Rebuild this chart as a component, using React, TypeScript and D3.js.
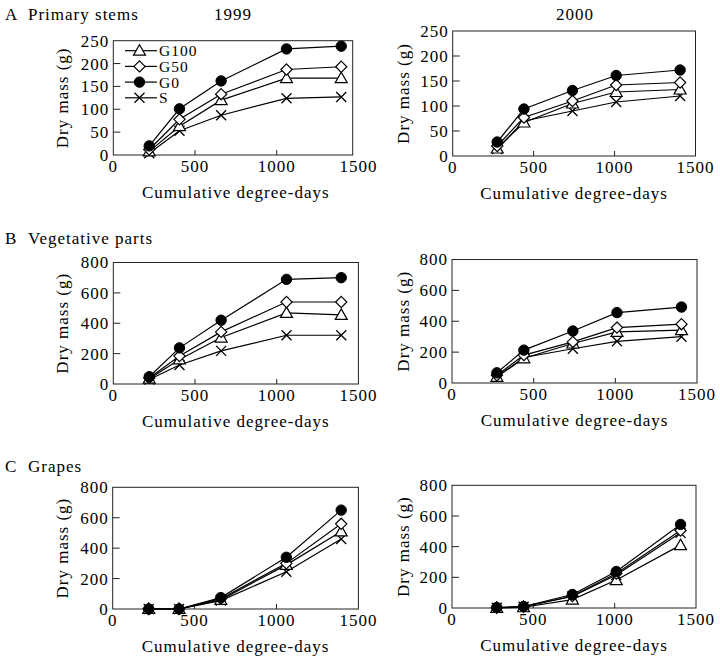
import React from "react";
import * as d3 from "d3";

const seriesNames = ["G100", "G50", "G0", "S"];
const degreeDays1999 = [220, 405, 660, 1060, 1395];
const degreeDays2000 = [275, 440, 740, 1010, 1405];

const stems1999_G100 = [8, 63, 120, 168, 168];
const stems1999_G50 = [12, 78, 133, 187, 193];
const stems1999_G0 = [20, 101, 162, 232, 238];
const stems1999_S = [4, 53, 87, 124, 127];

const stems2000_G100 = [15, 67, 105, 128, 133];
const stems2000_G50 = [20, 77, 110, 142, 147];
const stems2000_G0 = [28, 94, 131, 161, 172];
const stems2000_S = [14, 70, 90, 108, 120];

const veg1999_G100 = [35, 162, 306, 468, 455];
const veg1999_G50 = [40, 184, 343, 540, 540];
const veg1999_G0 = [48, 238, 420, 689, 700];
const veg1999_S = [30, 125, 218, 321, 321];

const veg2000_G100 = [40, 160, 256, 331, 342];
const veg2000_G50 = [50, 181, 266, 359, 381];
const veg2000_G0 = [66, 213, 337, 456, 492];
const veg2000_S = [40, 165, 222, 270, 300];

const grapes1999_G100 = [0, 0, 60, 290, 510];
const grapes1999_G50 = [0, 0, 68, 300, 560];
const grapes1999_G0 = [0, 0, 75, 340, 650];
const grapes1999_S = [0, 0, 55, 245, 460];

const grapes2000_G100 = [1, 5, 55, 182, 410];
const grapes2000_G50 = [2, 8, 78, 225, 505];
const grapes2000_G0 = [3, 10, 88, 238, 545];
const grapes2000_S = [2, 8, 75, 215, 490];

const xTicks = [0, 500, 1000, 1500];
const stemTicks = [0, 50, 100, 150, 200, 250];
const massTicks = [0, 200, 400, 600, 800];

const FONT = "'Liberation Serif', 'Times New Roman', serif";
const FS = 17;
const LS = 1;

type PanelSpec = {
  x0: number; x1: number; yb: number; yt: number; frameRight?: number;
  yMax: number; yTicks: number[]; xs: number[]; series: number[][];
  legend?: boolean;
};

const panels: PanelSpec[] = [
  { x0: 113.3, x1: 358.4, frameRight: 352.7, yb: 155, yt: 40.7, yMax: 250, yTicks: stemTicks, xs: degreeDays1999,
    series: [stems1999_G100, stems1999_G50, stems1999_G0, stems1999_S], legend: true },
  { x0: 452.7, x1: 695.5, yb: 156, yt: 31, yMax: 250, yTicks: stemTicks, xs: degreeDays2000,
    series: [stems2000_G100, stems2000_G50, stems2000_G0, stems2000_S] },
  { x0: 113.3, x1: 358.4, yb: 384, yt: 262.5, yMax: 800, yTicks: massTicks, xs: degreeDays1999,
    series: [veg1999_G100, veg1999_G50, veg1999_G0, veg1999_S] },
  { x0: 452, x1: 697, yb: 383, yt: 259.5, yMax: 800, yTicks: massTicks, xs: degreeDays2000,
    series: [veg2000_G100, veg2000_G50, veg2000_G0, veg2000_S] },
  { x0: 112.7, x1: 358.4, yb: 609, yt: 487.3, yMax: 800, yTicks: massTicks, xs: degreeDays1999,
    series: [grapes1999_G100, grapes1999_G50, grapes1999_G0, grapes1999_S] },
  { x0: 452, x1: 696, yb: 608, yt: 485.3, yMax: 800, yTicks: massTicks, xs: degreeDays2000,
    series: [grapes2000_G100, grapes2000_G50, grapes2000_G0, grapes2000_S] },
];

function Marker({ kind, x, y }: { kind: string; x: number; y: number }) {
  if (kind === "G0") return <circle cx={x} cy={y} r={5.2} fill="#000" stroke="#000" strokeWidth={1} />;
  if (kind === "G50") {
    const s = 5.6;
    return <path d={`M${x},${y - s}L${x + s},${y}L${x},${y + s}L${x - s},${y}Z`} fill="#fff" stroke="#000" strokeWidth={1.2} />;
  }
  if (kind === "G100") {
    const s = 6;
    return <path d={`M${x},${y - s}L${x + s},${y + s * 0.75}L${x - s},${y + s * 0.75}Z`} fill="#fff" stroke="#000" strokeWidth={1.2} />;
  }
  const s = 5;
  return <path d={`M${x - s},${y - s}L${x + s},${y + s}M${x - s},${y + s}L${x + s},${y - s}`} stroke="#000" strokeWidth={1.3} fill="none" />;
}

function Panel({ p }: { p: PanelSpec }) {
  const x = d3.scaleLinear().domain([0, 1500]).range([p.x0, p.x1]);
  const y = d3.scaleLinear().domain([0, p.yMax]).range([p.yb, p.yt]);
  const right = p.frameRight ?? p.x1;
  const line = d3.line<[number, number]>().x((d) => x(d[0])).y((d) => y(d[1]));
  const order = [3, 0, 1, 2];
  const ty = (p.yb + p.yt) / 2;
  const tx = p.x0 < 300 ? 62 : 403;
  return (
    <g>
      <rect x={p.x0} y={p.yt} width={right - p.x0} height={p.yb - p.yt} fill="none" stroke="#222" strokeWidth={1} />
      {p.yTicks.map((t) => (
        <g key={"y" + t}>
          {t > 0 && t < p.yMax && <line x1={p.x0} x2={p.x0 + 7} y1={y(t)} y2={y(t)} stroke="#222" />}
          <text x={p.x0 - 4} y={y(t)} dy="0.35em" textAnchor="end" fontSize={FS} letterSpacing={LS}>{t}</text>
        </g>
      ))}
      {xTicks.map((t) => (
        <g key={"x" + t}>
          {t > 0 && x(t) < right - 1 && <line x1={x(t)} x2={x(t)} y1={p.yb} y2={p.yb - 5} stroke="#222" />}
          <text x={x(t)} y={p.yb + 17} textAnchor="middle" fontSize={FS} letterSpacing={LS}>{t}</text>
        </g>
      ))}
      <text x={(p.x0 + p.x1) / 2} y={p.yb + 43} textAnchor="middle" fontSize={FS} letterSpacing={LS}>Cumulative degree-days</text>
      <text transform={`translate(${tx},${ty}) rotate(-90)`} textAnchor="middle" dy="0.35em" fontSize={FS} letterSpacing={LS}>Dry mass (g)</text>
      {order.map((i) => (
        <g key={"s" + i}>
          <path d={line(p.xs.map((v, k) => [v, p.series[i][k]] as [number, number])) || ""} fill="none" stroke="#000" strokeWidth={1.2} />
        </g>
      ))}
      {order.map((i) => (
        <g key={"m" + i}>
          {p.xs.map((v, k) => <Marker key={k} kind={seriesNames[i]} x={x(v)} y={y(p.series[i][k])} />)}
        </g>
      ))}
      {p.legend && seriesNames.map((n, i) => {
        const ly = 50.7 + i * 15.7;
        return (
          <g key={"l" + n}>
            <line x1={125} x2={157} y1={ly} y2={ly} stroke="#000" strokeWidth={1.2} />
            <Marker kind={n} x={139.5} y={ly} />
            <text x={159} y={ly} dy="0.35em" fontSize={15.5} letterSpacing={LS}>{n}</text>
          </g>
        );
      })}
    </g>
  );
}

export default function App() {
  return (
    <svg width={720} height={659} style={{ position: "absolute", left: 0, top: 0, background: "#fff" }}
      fontFamily={FONT} fill="#000">
      <rect width={720} height={659} fill="#fff" />
      <text x={5} y={20} fontSize={FS} letterSpacing={LS}>A</text>
      <text x={28} y={20} fontSize={FS} letterSpacing={LS}>Primary stems</text>
      <text x={233} y={20} textAnchor="middle" fontSize={FS} letterSpacing={LS}>1999</text>
      <text x={575} y={20} textAnchor="middle" fontSize={FS} letterSpacing={LS}>2000</text>
      <text x={5} y={244} fontSize={FS} letterSpacing={LS}>B</text>
      <text x={28} y={244} fontSize={FS} letterSpacing={LS}>Vegetative parts</text>
      <text x={5} y={472} fontSize={FS} letterSpacing={LS}>C</text>
      <text x={28} y={472} fontSize={FS} letterSpacing={LS}>Grapes</text>
      {panels.map((p, i) => <Panel key={i} p={p} />)}
    </svg>
  );
}
